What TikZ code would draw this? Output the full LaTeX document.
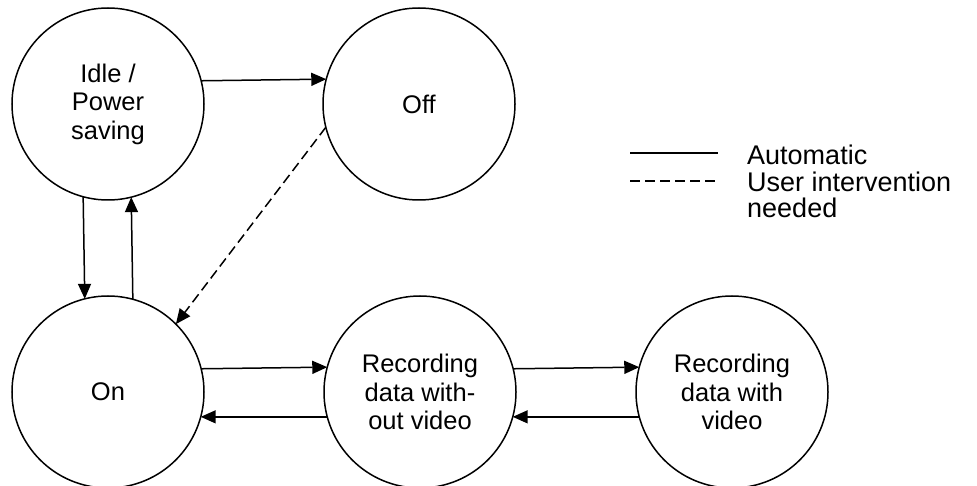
\documentclass[tikz,border=0pt]{standalone}
\usepackage{fontspec}
\setmainfont{Liberation Sans}
\usetikzlibrary{arrows.meta}
\begin{document}
\begin{tikzpicture}[x=1pt,y=1pt,
  state/.style={draw, circle, line width=1.5pt, minimum size=192pt, inner sep=0pt, outer sep=0pt,
    align=center, font=\fontsize{25.5}{28.5}\selectfont},
  conn/.style={line width=1.5pt, -{Triangle[length=15pt,width=13pt]}},
  userconn/.style={conn, dash pattern=on 10pt off 5pt},
  legtext/.style={anchor=base west, inner sep=0pt, align=left, font=\fontsize{27}{26}\selectfont}]
\useasboundingbox (0,0) rectangle (977,485);
\node[state] (idle) at (108,381) {Idle /\\Power\\saving};
\node[state] (off) at (419,381) {Off};
\node[state] (on) at (108,93) {On};
\node[state] (rec1) at (420,93) {Recording\\data with-\\out video};
\node[state] (rec2) at (732,93) {Recording\\data with\\video};
\draw[conn] (idle.14.5) -- (off.165.5);
\draw[userconn] (off.194.5) -- (on.45);
\draw[conn] (idle.255.5) -- (on.104.5);
\draw[conn] (on.75.5) -- (idle.284.5);
\draw[conn] (on.14.5) -- (rec1.165.5);
\draw[conn] (rec1.195) -- (on.-15);
\draw[conn] (rec1.14.5) -- (rec2.165.5);
\draw[conn] (rec2.195) -- (rec1.-15);
\coordinate (la1) at (630,332);
\coordinate (la2) at (718,332);
\coordinate (lb1) at (630,304);
\coordinate (lb2) at (718,304);
\draw[line width=1.5pt] (la1) -- (la2);
\draw[line width=1.5pt, dash pattern=on 10pt off 5pt] (lb1) -- (lb2);
\node[legtext] (lauto) at (747,320) {Automatic};
\node[legtext] (luser) at (747,267) {User intervention\\needed};
\end{tikzpicture}
\end{document}
